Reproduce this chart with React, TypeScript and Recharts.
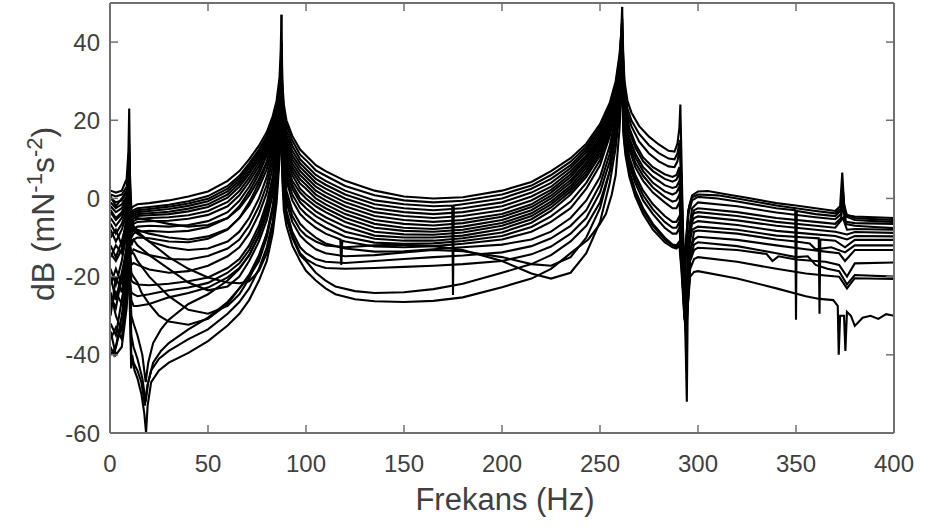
import React from 'react';
import { LineChart, Line, XAxis, YAxis, ReferenceLine, Label } from 'recharts';

// Frequency response curves as [Hz, dB] pairs.
// Each curve is split at the two big resonances (87.5 Hz and 261.3 Hz).

const X_TICKS = [0, 50, 100, 150, 200, 250, 300, 350, 400];
const Y_TICKS = [-60, -40, -20, 0, 20, 40];

// 0 -> 87.5 Hz
const low01 = [[0.3,2],[3,1.5],[6,2],[8.5,5],[9.4,12],[9.8,23],[10.2,6],[10.9,-2.5],[12,-2],[14,-1.5],[20,-1.2],[30,-0.5],[40,0.5],[50,1.8],[60,4.5],[66,7],[71,10],[76,13.5],[80,17],[83,21],[85,25],[86.5,31],[87.1,38],[87.5,47]];
const low02 = [[0.3,1],[3,0.5],[6,1],[8.5,3],[9.4,8],[9.8,14],[10.2,3],[10.9,-3.5],[12,-3],[14,-2.5],[20,-2.2],[30,-1.6],[40,-0.7],[50,0.6],[60,3.2],[66,5.8],[71,9],[76,12.5],[80,16],[83,20],[85,24],[86.5,29],[87.5,36]];
const low03 = [[0.3,0],[3,-1],[6,-0.5],[8.5,1.5],[9.4,5],[9.8,9],[10.2,0],[10.9,-4.5],[12,-4],[14,-3.5],[20,-3.2],[30,-2.7],[40,-1.9],[50,-0.7],[60,1.8],[66,4.5],[71,7.8],[76,11.5],[80,15],[83,19],[85,23],[86.5,28],[87.5,33]];
const low04 = [[0.3,-2],[3,-3.5],[6,-2.5],[8.5,0],[9.4,3],[9.8,6],[10.2,-2],[10.9,-6],[12,-5],[14,-4.5],[20,-4.3],[30,-4],[40,-3.3],[50,-2.2],[60,0.2],[66,3],[71,6.3],[76,10],[80,13.8],[83,18],[85,22],[86.5,27],[87.5,31]];
const low05 = [[0.3,-5],[3,-7],[6,-5],[8.5,-2],[9.4,1],[9.8,4],[10.2,-4],[10.9,-8],[12,-6.5],[14,-6],[20,-5.8],[30,-5.7],[40,-5.2],[50,-4.2],[60,-2],[66,0.8],[71,4.3],[76,8.3],[80,12.5],[83,17],[85,21],[86.5,26.5],[87.5,30]];
const low06 = [[0.3,-8],[3,-11],[6,-8],[8.5,-4],[9.4,-1],[9.8,2],[10.2,-6],[10.9,-10],[12,-9],[14,-8.5],[20,-8.3],[30,-8.6],[40,-8.3],[50,-7.3],[60,-5],[66,-2],[71,1.8],[76,6.3],[80,11],[83,15.8],[85,20],[86.5,26],[87.5,29]];
const low07 = [[0.3,-12],[3,-15],[6,-11],[8.5,-6],[9.4,-3],[9.8,0],[10.2,-8],[10.9,-12],[12,-10.5],[14,-10],[20,-10.2],[30,-11],[40,-11.2],[50,-10.3],[60,-8],[66,-5],[71,-1],[76,4],[80,9],[83,14.5],[85,19],[86.5,25],[87.5,28]];
const low08 = [[0.3,-10],[3,-8],[6,-12],[8.5,-5],[9.4,-2],[9.8,1],[10.2,-6],[10.9,-7],[12,-7],[14,-8.5],[20,-11],[30,-15],[40,-18],[50,-20.2],[60,-21.5],[66,-21.7],[71,-21.2],[76,-18.5],[80,-14],[83,-7],[85,1],[86.5,13],[87.5,24]];
const low09 = [[0.3,-20],[3,-26],[6,-19],[8.5,-13],[9.4,-8],[9.8,-5],[10.2,-14],[10.9,-19],[12,-20],[14,-21.5],[16,-24],[20,-27],[25,-30],[30,-31.5],[40,-32.3],[50,-30.8],[60,-27],[66,-23],[71,-20],[76,-16],[80,-10],[83,-3],[85,5],[86.5,15],[87.5,24.5]];
const low10 = [[0.3,-38],[2,-40],[4,-36],[6,-33],[8.5,-26],[9.4,-18],[9.8,-14],[10.2,-28],[10.8,-43.5],[11.3,-40],[12.5,-44],[14,-46],[16,-50],[17.5,-55],[18.4,-60],[19.2,-53],[21,-47],[25,-44],[30,-42],[40,-39.5],[50,-36.5],[60,-32.5],[66,-29.5],[71,-26],[76,-21],[80,-16],[83,-9],[85,-1],[86.5,10],[87.5,22]];
const low11 = [[0.3,-36],[3,-33],[6,-36],[8.5,-24],[9.4,-16],[9.8,-12],[10.2,-25],[10.9,-35],[12,-38],[14,-41],[16.5,-46],[18.2,-52],[19.5,-47],[22,-42],[26,-39],[30,-37],[40,-33.5],[50,-30.5],[60,-26.5],[66,-23],[71,-19.5],[76,-14.5],[80,-9],[83,-3],[85,4],[86.5,13],[87.5,23]];
const low12 = [[0.3,-40],[3,-38],[6,-30],[8.5,-21],[9.4,-14],[9.8,-11],[10.2,-22],[10.9,-30],[12,-32],[14,-35],[16.5,-40],[18.2,-47],[19.5,-42],[22,-37],[26,-33.5],[30,-31],[40,-27],[50,-24.5],[60,-21],[66,-18],[71,-14.5],[76,-9.5],[80,-4],[83,2],[85,8],[86.5,16],[87.5,24]];
const low13 = [[0.3,-18],[3,-22],[6,-16],[8.5,-9],[9.4,-5],[9.8,-2],[10.2,-10],[10.9,-9],[12,-8],[14,-9],[20,-11],[30,-12.5],[40,-13.2],[50,-12.8],[60,-11],[66,-8.5],[71,-5],[76,0],[80,5.5],[83,11.5],[85,17],[86.5,23],[87.5,27]];
const low14 = [[0.3,-22],[3,-18],[6,-22],[8.5,-12],[9.4,-7],[9.8,-4],[10.2,-12],[10.9,-14],[12,-13],[14,-13.5],[20,-14.5],[30,-15.5],[40,-15.6],[50,-14.7],[60,-12.8],[66,-10.5],[71,-7],[76,-2],[80,3.5],[83,10],[85,16],[86.5,22.5],[87.5,26.5]];
const low15 = [[0.3,-25],[3,-28],[6,-20],[8.5,-14],[9.4,-9],[9.8,-6],[10.2,-14],[10.9,-17],[12,-16.5],[14,-17],[20,-18.2],[30,-19],[40,-18.6],[50,-17.2],[60,-14.8],[66,-12.5],[71,-9],[76,-4],[80,1.5],[83,8],[85,14.5],[86.5,21.5],[87.5,26]];
const low16 = [[0.3,-28],[3,-24],[6,-27],[8.5,-17],[9.4,-11],[9.8,-8],[10.2,-17],[10.9,-21],[12,-21.5],[14,-22],[20,-22.2],[30,-21.8],[40,-21.2],[50,-20.2],[60,-17.8],[66,-15.5],[71,-12],[76,-7],[80,-1],[83,5.5],[85,12.5],[86.5,20.5],[87.5,25.5]];
const low17 = [[0.3,-32],[3,-35],[6,-26],[8.5,-19],[9.4,-13],[9.8,-10],[10.2,-20],[10.9,-26],[12,-27.5],[14,-27.5],[20,-27],[30,-25.3],[40,-24.2],[50,-22.8],[60,-20.2],[66,-17.8],[71,-14.5],[76,-9.5],[80,-3.5],[83,3],[85,10],[86.5,19],[87.5,25]];
const low18 = [[0.3,-14],[3,-16],[6,-13],[8.5,-8],[9.4,-4],[9.8,-1.5],[10.2,-9],[10.9,-11],[12,-10.5],[14,-12],[20,-14.5],[30,-18],[40,-21.5],[50,-23.5],[60,-22.5],[66,-20],[71,-16],[76,-11],[80,-5.5],[83,1],[85,8],[86.5,17],[87.5,24]];
const low19 = [[0.3,-3],[3,-5],[6,-3.5],[8.5,-1],[9.4,2],[9.8,5],[10.2,-3],[10.9,-6],[12,-5],[14,-5],[20,-5.5],[30,-6.5],[40,-7.2],[50,-6.8],[60,-5],[66,-2.5],[71,0.8],[76,5],[80,9.5],[83,14.5],[85,19],[86.5,25],[87.5,28]];
const low20 = [[0.3,-15],[3,-12],[6,-14],[8.5,-7],[9.4,-4],[9.8,-1],[10.2,-9],[10.9,-9],[12,-7.5],[14,-8],[20,-9],[30,-10],[40,-10.5],[50,-9.7],[60,-7.8],[66,-5],[71,-1.8],[76,2.8],[80,7.5],[83,13],[85,18],[86.5,24],[87.5,27.5]];
const low21 = [[0.3,0.5],[3,-2],[6,0],[8.5,2],[9.4,6],[9.8,11],[10.2,1],[10.9,-4],[12,-3.5],[14,-3],[20,-2.7],[30,-2.1],[40,-1.3],[50,-0.1],[60,2.5],[66,5.2],[71,8.4],[76,12],[80,15.5],[83,19.5],[85,23.5],[86.5,28.5],[87.5,34]];
const low22 = [[0.3,-1],[3,-2.5],[6,-1.5],[8.5,0.5],[9.4,4],[9.8,7],[10.2,-1],[10.9,-5],[12,-4.5],[14,-4],[20,-3.8],[30,-3.4],[40,-2.6],[50,-1.5],[60,1],[66,3.8],[71,7],[76,10.8],[80,14.4],[83,18.5],[85,22.5],[86.5,27.5],[87.5,32]];
const low23 = [[0.3,-3.5],[3,-5.5],[6,-4],[8.5,-1],[9.4,2],[9.8,5],[10.2,-3],[10.9,-7],[12,-5.8],[14,-5.3],[20,-5],[30,-4.8],[40,-4.3],[50,-3.2],[60,-0.9],[66,1.9],[71,5.3],[76,9.2],[80,13.2],[83,17.5],[85,21.5],[86.5,26.8],[87.5,30.5]];
const low24 = [[0.3,-6.5],[3,-9],[6,-6.5],[8.5,-3],[9.4,0],[9.8,3],[10.2,-5],[10.9,-9],[12,-7.8],[14,-7.2],[20,-7],[30,-7.2],[40,-6.8],[50,-5.8],[60,-3.5],[66,-0.6],[71,3],[76,7.3],[80,11.8],[83,16.4],[85,20.5],[86.5,26.2],[87.5,29.5]];
const low25 = [[0.3,-30],[3,-20],[6,-24],[8.5,-15],[9.4,-10],[9.8,-7],[10.2,-12],[10.9,-14],[12,-14],[14,-16],[20,-20],[30,-25],[40,-28.5],[50,-29.5],[60,-27.5],[66,-24.5],[71,-20.5],[76,-15],[80,-9],[83,-2],[85,5.5],[86.5,15.5],[87.5,24]];
const low26 = [[0.3,-34],[3,-40],[6,-38],[8.5,-28],[9.4,-20],[9.8,-16],[10.2,-30],[10.9,-40],[12,-42],[14,-44],[16,-47],[17.8,-53],[19,-48],[21,-44],[25,-41],[30,-39],[40,-36],[50,-33.5],[60,-29.5],[66,-26.5],[71,-23],[76,-18],[80,-12.5],[83,-6],[85,1.5],[86.5,11.5],[87.5,22.5]];
const low27 = [[0.3,-24],[3,-30],[6,-34],[8.5,-22],[9.4,-15],[9.8,-12],[10.2,-22],[10.9,-24],[12,-24.5],[14,-25],[20,-24.5],[30,-23.5],[40,-22.8],[50,-21.6],[60,-19],[66,-16.6],[71,-13.2],[76,-8.2],[80,-2.2],[83,4.2],[85,11.2],[86.5,19.8],[87.5,25.2]];

// 87.5 -> 261.3 Hz
const mid01 = [[87.5,47],[87.9,30],[88.7,24],[90,20],[93,16],[97,12.5],[100,11],[105,8.5],[110,7],[120,4.5],[135,2],[150,0.5],[165,0],[180,0.3],[200,2],[215,4.2],[225,7],[235,10.3],[243,14],[250,19],[255,24.5],[258,30],[260,37],[260.8,42],[261.3,49]];
const mid02 = [[87.5,36],[88,26],[88.7,21],[90,17.5],[93,13.5],[97,10],[100,8.5],[105,6],[110,4.5],[120,2],[135,-0.5],[150,-1.5],[165,-2],[174.6,-1.8],[175,-24.7],[175.4,-1.8],[180,-1.5],[200,0],[215,2.5],[225,5],[235,8.5],[243,12.5],[250,17.5],[255,23],[258,28.5],[260,35],[261.3,45]];
const mid03 = [[87.5,33],[88,24],[88.7,19],[90,15],[93,11],[97,8],[100,6.5],[105,4],[110,2.5],[120,0],[135,-2.5],[150,-3.5],[165,-4],[180,-3.5],[200,-2],[215,0.5],[225,3],[235,7],[243,11],[250,16],[255,21.5],[258,27.5],[260,34],[261.3,42]];
const mid04 = [[87.5,31],[88,22],[88.7,17],[90,13],[93,9],[97,6],[100,4.5],[105,2],[110,0.5],[120,-2],[135,-4.5],[150,-5.5],[165,-6],[180,-5.5],[200,-4],[215,-1.5],[225,1.5],[235,5.5],[243,10],[250,15],[255,20.5],[258,26.5],[260,33],[261.3,40]];
const mid05 = [[87.5,30],[88,20],[88.7,15],[90,11],[93,7],[97,3.8],[100,2.5],[105,0],[110,-1.5],[120,-4],[135,-6.5],[150,-7.5],[165,-7.8],[180,-7.2],[200,-5.5],[215,-3],[225,0],[235,4],[243,8.5],[250,14],[255,19.5],[258,25.5],[260,32],[261.3,38]];
const mid06 = [[87.5,29],[88,18],[88.7,13],[90,9],[93,4.5],[97,1.5],[100,0],[105,-2],[110,-3.5],[120,-6],[135,-8.5],[150,-9.2],[165,-9.3],[180,-8.7],[200,-7],[215,-4.5],[225,-1.5],[235,2.5],[243,7],[250,12.5],[255,18.5],[258,25],[260,31],[261.3,37]];
const mid07 = [[87.5,28],[88,16],[88.7,11],[90,7],[93,2.5],[97,-1],[100,-2.5],[105,-4.5],[110,-6],[120,-8.5],[135,-10.3],[150,-10.8],[165,-10.8],[180,-10.2],[200,-8.7],[215,-6.2],[225,-3.2],[235,1],[243,5.5],[250,11],[255,17.5],[258,24],[260,30],[261.3,36]];
const mid08 = [[87.5,27.5],[88,14],[88.7,9],[90,4.5],[93,-0.5],[97,-4],[100,-5.5],[105,-7.5],[110,-9],[117.5,-10.5],[118,-17],[118.5,-10.8],[120,-11],[135,-12.3],[150,-12.5],[165,-12.2],[180,-11.6],[200,-10.5],[215,-8.5],[225,-6],[235,-2.5],[243,2.5],[250,8.5],[255,16],[258,22.5],[260,29],[261.3,35]];
const mid09 = [[87.5,26],[88,10],[88.7,4],[90,-1],[93,-6],[97,-9.5],[100,-11],[105,-13],[110,-14],[120,-14.8],[135,-14.5],[150,-13.8],[165,-13.2],[180,-13.5],[200,-15],[215,-16.8],[225,-17.2],[235,-15],[243,-10],[250,-2.5],[255,7],[258,16],[260,25],[261.3,33]];
const mid10 = [[87.5,25.5],[88,8],[88.7,2],[90,-3],[93,-8.5],[97,-12.5],[100,-14],[105,-15.5],[110,-16.2],[120,-16.5],[135,-16],[150,-15.5],[165,-15],[180,-14.6],[200,-13.8],[215,-12.2],[225,-10.2],[235,-7],[243,-3],[250,3.5],[255,11.5],[258,19.5],[260,27],[261.3,34]];
const mid11 = [[87.5,24.5],[88,6],[88.7,0],[90,-5],[93,-10],[97,-14.5],[100,-16],[105,-19],[110,-21],[115,-22.5],[125,-23.7],[135,-24.2],[150,-24],[165,-23.2],[180,-21.8],[200,-19],[215,-16.8],[225,-14.5],[235,-11],[243,-7],[250,-1],[255,7],[258,16],[260,24.5],[261.3,32]];
const mid12 = [[87.5,24],[88,4],[88.7,-3],[90,-7],[93,-12],[97,-16],[100,-18.5],[105,-21],[110,-23],[115,-24.5],[125,-25.8],[135,-26.3],[150,-26.5],[165,-26.2],[180,-25.3],[200,-22.7],[215,-20.5],[225,-18],[235,-14],[244,-10.5],[250,-6.5],[253,-4],[256,1],[258,6],[260,18],[261.3,30]];
const mid13 = [[87.5,29],[88,19],[90,10],[93,6],[97,2.5],[100,1],[105,-1],[110,-2.5],[120,-5],[135,-7.5],[150,-8.3],[165,-8.5],[180,-8],[200,-6.3],[215,-3.8],[225,-0.8],[235,3.2],[243,7.8],[250,13.2],[255,19],[258,25],[260,31.5],[261.3,37.5]];
const mid14 = [[87.5,27],[88,12],[90,2],[93,-3],[97,-6.5],[100,-8],[105,-10],[110,-11.5],[120,-12.8],[135,-13.6],[150,-13.5],[165,-13],[180,-12.5],[200,-11.8],[215,-10.5],[225,-8.5],[235,-5],[243,-0.5],[250,5.5],[255,13.5],[258,21],[260,28],[261.3,34.5]];
const mid15 = [[87.5,26.5],[88,11],[90,0.5],[93,-4.5],[97,-8],[100,-9.5],[105,-11],[110,-12],[120,-12.5],[135,-12],[150,-11.8],[165,-12.2],[180,-13.2],[200,-16],[215,-19.2],[225,-20.5],[235,-19],[243,-14],[250,-6],[255,4],[258,13],[260,22],[261.3,31]];
const mid16 = [[87.5,28.5],[88,17],[90,8],[93,3.5],[97,0],[100,-1.2],[105,-3.3],[110,-4.8],[120,-7.2],[135,-9.5],[150,-10],[165,-10],[180,-9.5],[200,-7.8],[215,-5.3],[225,-2.3],[235,1.8],[243,6.2],[250,11.8],[255,18],[258,24.5],[260,30.5],[261.3,36.5]];
const mid17 = [[87.5,40],[88,27],[88.7,22.5],[90,18.8],[93,14.8],[97,11.2],[100,9.8],[105,7.2],[110,5.8],[120,3.2],[135,0.8],[150,-0.5],[165,-1],[180,-0.6],[200,1],[215,3.3],[225,6],[235,9.4],[243,13.2],[250,18.2],[255,23.8],[258,29.2],[260,36],[261.3,46]];
const mid18 = [[87.5,34],[88,25],[88.7,20],[90,16.2],[93,12.2],[97,9],[100,7.5],[105,5],[110,3.5],[120,1],[135,-1.5],[150,-2.5],[165,-3],[180,-2.5],[200,-1],[215,1.5],[225,4],[235,7.8],[243,11.8],[250,16.8],[255,22.3],[258,28],[260,34.5],[261.3,43]];
const mid19 = [[87.5,32],[88,23],[88.7,18],[90,14],[93,10],[97,7],[100,5.5],[105,3],[110,1.5],[120,-1],[135,-3.5],[150,-4.5],[165,-5],[180,-4.5],[200,-3],[215,-0.5],[225,2.2],[235,6.2],[243,10.5],[250,15.5],[255,21],[258,27],[260,33.5],[261.3,41]];
const mid20 = [[87.5,30.5],[88,21],[88.7,16],[90,12],[93,8],[97,4.9],[100,3.5],[105,1],[110,-0.5],[120,-3],[135,-5.5],[150,-6.5],[165,-6.9],[180,-6.3],[200,-4.7],[215,-2.2],[225,0.7],[235,4.7],[243,9.2],[250,14.5],[255,20],[258,26],[260,32.5],[261.3,39]];
const mid21 = [[87.5,27.8],[88,15],[88.7,10],[90,5.8],[93,1],[97,-2.5],[100,-4],[105,-6],[110,-7.5],[120,-9.8],[135,-11.3],[150,-11.6],[165,-11.5],[180,-10.9],[200,-9.6],[215,-7.3],[225,-4.6],[235,-0.8],[243,4],[250,9.8],[255,16.8],[258,23.2],[260,29.5],[261.3,35.5]];
const mid22 = [[87.5,25],[88,7],[88.7,1],[90,-4],[93,-9.5],[97,-14],[100,-15.5],[105,-17],[110,-17.8],[120,-18],[135,-17.8],[150,-17.5],[165,-17.2],[180,-16.8],[200,-16],[215,-14.3],[225,-12.3],[235,-9],[243,-5],[250,1.5],[255,9.5],[258,18],[260,26],[261.3,33]];

// 261.3 -> 400 Hz
const high01 = [[261.3,49],[261.8,38],[262.5,30],[264,25],[266,22],[270,18.5],[275,15.8],[280,13.8],[285,12.2],[288,12],[289.5,14],[290.5,18],[291,24],[291.5,12],[292.2,-5],[293,-20],[294,-10],[295.5,-2],[297,0.8],[300,1.8],[305,1.9],[315,1],[325,0.2],[340,-1.2],[350,-1.8],[360,-2.5],[370,-3.2],[372.5,-2],[373.6,6.6],[374.5,-1.5],[376,-4.3],[380,-4.6],[390,-4.8],[400,-5]];
const high02 = [[261.3,45],[261.8,35],[262.5,27],[264,21.5],[266,18.5],[270,14.5],[275,11.5],[280,9.5],[285,8.2],[288,8],[289.5,9.5],[290.7,13],[291.5,4],[292.3,-12],[293.1,-31],[293.7,-15],[295,-4],[297,-0.5],[300,0.4],[310,0],[320,-0.8],[340,-2.5],[349.6,-3],[350,-31],[350.4,-3.2],[360,-4],[370,-4.5],[373,-3],[373.8,2],[375,-4.5],[380,-5.5],[390,-5.8],[400,-6]];
const high03 = [[261.3,42],[262,28],[263,22],[265,17],[268,13],[272,9.5],[277,7],[283,5],[287,4.3],[289,4.8],[290.5,6.5],[291.5,-1],[292.8,-20],[293.8,-40],[294.3,-52],[294.8,-25],[296,-7],[298,-3],[300,-2.5],[320,-3.5],[340,-5],[360,-6],[370,-6.5],[373,-5],[374,-0.5],[375,-6.5],[380,-7],[390,-7.3],[400,-7.6]];
const high04 = [[261.3,40],[262,26],[263,20],[265,14.5],[268,10.5],[272,7],[277,4],[283,1.8],[287,1],[289,1.5],[290.5,3],[291.5,-4],[293,-22],[294,-30],[295,-14],[296.5,-6.5],[298,-5],[300,-4.6],[320,-5.6],[340,-7],[360,-8],[370,-8.5],[376,-9.2],[380,-8.6],[400,-8.8]];
const high05 = [[261.3,38],[262,24],[263,18],[265,12.5],[268,8],[272,4.5],[277,1.5],[283,-1],[287,-2.5],[289,-2.5],[290.5,-1],[291.5,-8],[293,-25],[294,-35],[295.5,-12],[297,-8],[300,-7.2],[320,-8],[340,-9.5],[355,-10],[361.6,-10.2],[362,-29.5],[362.4,-10.5],[370,-10.8],[375,-12.5],[380,-10.6],[400,-10.6]];
const high06 = [[261.3,37],[262,22],[263,16],[265,10.5],[268,6],[272,2],[277,-1.5],[283,-4.5],[287,-6],[289,-6],[290.5,-4.5],[291.5,-12],[293,-28],[294,-30],[296,-13],[298,-10.5],[300,-9.8],[320,-10.6],[340,-12],[355,-13],[365,-13.6],[372,-14],[375,-16],[380,-13.2],[400,-13.2]];
const high07 = [[261.3,36],[262,20],[263,14],[265,8.5],[268,4],[272,-0.5],[277,-4],[283,-7.5],[287,-9],[289,-9],[290.5,-7.5],[291.5,-14],[293,-30],[294,-35],[296,-16],[298,-13.2],[300,-12.6],[320,-13.2],[335,-14.2],[338,-16],[341,-14.8],[350,-15.6],[365,-16.2],[372,-17],[376,-20],[380,-16.6],[400,-16.4]];
const high08 = [[261.3,35],[262,18],[263,12.5],[265,7],[268,2],[272,-2.5],[277,-6.5],[283,-10],[287,-11.8],[289,-12],[290.5,-11],[291.5,-17],[293,-28],[294,-33],[296,-18],[298,-15.5],[300,-15],[320,-16.2],[340,-18],[355,-19.2],[365,-19.7],[372,-20],[376,-23],[380,-20.4],[400,-20.6]];
const high09 = [[261.3,34],[262,16],[263,11],[265,5.5],[268,0.5],[272,-4],[277,-8],[283,-11.2],[287,-12.5],[289,-12.8],[290.5,-12],[291.5,-18],[293,-30],[294,-32],[296,-20],[298,-18.8],[300,-18.6],[320,-20.5],[340,-23],[355,-25],[362,-25.7],[369,-26],[371.3,-27.5],[371.8,-40],[372.5,-30],[374.5,-30],[375.2,-39],[376,-29],[378,-30],[380,-32.6],[384,-30.5],[388,-30],[392,-30.8],[396,-29.6],[400,-30]];
const high10 = [[261.3,33],[262,17],[263,12],[265,6.5],[268,1.5],[272,-3],[277,-7],[283,-10.5],[287,-12],[289,-12.3],[290.5,-11.5],[291.5,-15],[293,-26],[294,-28],[296,-15],[298,-11.8],[300,-11.2],[320,-12.2],[340,-14],[350,-15],[356,-14.8],[360,-17],[366,-18],[372,-18.6],[376,-22],[380,-19.6],[400,-20]];
const high11 = [[261.3,42],[262,29],[263,23],[265,18],[268,14],[272,10.5],[277,8],[283,6.2],[287,5.5],[289,6],[290.5,8],[291.5,0],[293,-18],[294,-28],[295,-10],[297,-2.5],[300,-1],[320,-2],[340,-3.6],[360,-4.8],[370,-5.3],[373,-4],[374,-1],[375.5,-6],[380,-6.3],[400,-6.5]];
const high12 = [[261.3,46],[261.8,36],[262.5,28.5],[264,23],[266,20],[270,16.5],[275,13.6],[280,11.6],[285,10.2],[288,10],[289.5,11.5],[290.7,15],[291.5,6],[292.3,-8],[293,-24],[293.8,-12],[295,-3],[297,0.3],[300,1],[310,0.8],[320,0],[340,-1.8],[360,-3.2],[370,-3.8],[373,-2.5],[373.8,3],[375,-4],[380,-5],[390,-5.3],[400,-5.5]];
const high13 = [[261.3,41],[262,27],[263,21],[265,15.5],[268,11.5],[272,8],[277,5.5],[283,3.4],[287,2.7],[289,3],[290.5,4.5],[291.5,-2],[293,-20],[294,-34],[295,-12],[296.5,-4.5],[298,-3.8],[300,-3.5],[320,-4.5],[340,-6],[360,-7],[370,-7.5],[374,-5],[376,-8],[380,-7.8],[400,-8]];
const high14 = [[261.3,39],[262,25],[263,19],[265,13.5],[268,9.2],[272,5.8],[277,2.8],[283,0.4],[287,-0.8],[289,-0.5],[290.5,1],[291.5,-6],[293,-24],[294,-32],[295.5,-10],[297,-6.5],[300,-5.8],[320,-6.8],[340,-8.3],[360,-9.2],[370,-9.6],[376,-10.5],[380,-9.6],[400,-9.7]];
const high15 = [[261.3,36.5],[262,21],[263,15],[265,9.5],[268,5],[272,0.8],[277,-2.8],[283,-6],[287,-7.5],[289,-7.5],[290.5,-6],[291.5,-13],[293,-29],[294,-32],[296,-14],[298,-8.5],[300,-8.2],[320,-9],[340,-10.5],[350,-11],[357,-11.5],[360,-13],[368,-12.5],[375,-13.8],[380,-12],[400,-12]];

const LOW = [low01, low02, low03, low04, low05, low06, low07, low08, low09, low10, low11, low12, low13, low14, low15, low16, low17, low18, low19, low20, low21, low22, low23, low24, low25, low26, low27];
const MID = [mid01, mid02, mid03, mid04, mid05, mid06, mid07, mid08, mid09, mid10, mid11, mid12, mid13, mid14, mid15, mid16, mid17, mid18, mid19, mid20, mid21, mid22];
const HIGH = [high01, high02, high03, high04, high05, high06, high07, high08, high09, high10, high11, high12, high13, high14, high15];

const curves = [...LOW, ...MID, ...HIGH].map((seg) => seg.map(([f, v]) => ({ f, v })));

const FONT = '"Liberation Sans", Arial, Helvetica, sans-serif';
const FRAME = '#707070';
const TICK_LEN_DB = 2.05; // ~8px on the y scale
const TICK_LEN_HZ = 4.1; // ~8px on the x scale

const renderYLabel = () => (
  <text
    x={54}
    y={214}
    transform="rotate(-90 54 214)"
    textAnchor="middle"
    fontSize={32}
    fill="#404040"
    fontFamily={FONT}
  >
    dB (mN<tspan dy={-12} fontSize={22}>-1</tspan>
    <tspan dy={12}>s</tspan>
    <tspan dy={-12} fontSize={22}>-2</tspan>
    <tspan dy={12}>)</tspan>
  </text>
);

const renderXLabel = () => (
  <text x={505} y={510} textAnchor="middle" fontSize={31} fill="#404040" fontFamily={FONT}>
    Frekans (Hz)
  </text>
);

export default function App() {
  return (
    <div style={{ position: 'absolute', left: 0, top: 0, background: '#fff' }}>
      <LineChart width={927} height={529} margin={{ top: 3, right: 33, left: 0, bottom: 0 }}>
        <XAxis
          type="number"
          dataKey="f"
          domain={[0, 400]}
          ticks={X_TICKS}
          allowDataOverflow
          height={96}
          tickLine={false}
          tickMargin={16}
          axisLine={{ stroke: FRAME, strokeWidth: 2 }}
          tick={{ fontSize: 24, fill: '#404040', fontFamily: FONT }}
        >
          <Label content={renderXLabel} />
        </XAxis>
        <YAxis
          type="number"
          dataKey="v"
          domain={[-60, 50]}
          ticks={Y_TICKS}
          allowDataOverflow
          width={110}
          tickLine={false}
          tickMargin={4}
          axisLine={{ stroke: FRAME, strokeWidth: 2 }}
          tick={{ fontSize: 24, fill: '#404040', fontFamily: FONT }}
        >
          <Label content={renderYLabel} />
        </YAxis>
        {curves.map((pts, i) => (
          <Line
            key={i}
            data={pts}
            dataKey="v"
            type="linear"
            stroke="#000"
            strokeWidth={2.1}
            dot={false}
            activeDot={false}
            isAnimationActive={false}
          />
        ))}
        <ReferenceLine y={50} stroke={FRAME} strokeWidth={2} />
        <ReferenceLine x={400} stroke={FRAME} strokeWidth={2} />
        {X_TICKS.map((t) => (
          <ReferenceLine key={`xb${t}`} segment={[{ x: t, y: -60 }, { x: t, y: -60 + TICK_LEN_DB }]} stroke={FRAME} strokeWidth={1.5} />
        ))}
        {X_TICKS.map((t) => (
          <ReferenceLine key={`xt${t}`} segment={[{ x: t, y: 50 }, { x: t, y: 50 - TICK_LEN_DB }]} stroke={FRAME} strokeWidth={1.5} />
        ))}
        {Y_TICKS.map((t) => (
          <ReferenceLine key={`yl${t}`} segment={[{ x: 0, y: t }, { x: TICK_LEN_HZ, y: t }]} stroke={FRAME} strokeWidth={1.5} />
        ))}
        {Y_TICKS.map((t) => (
          <ReferenceLine key={`yr${t}`} segment={[{ x: 400, y: t }, { x: 400 - TICK_LEN_HZ, y: t }]} stroke={FRAME} strokeWidth={1.5} />
        ))}
      </LineChart>
    </div>
  );
}
